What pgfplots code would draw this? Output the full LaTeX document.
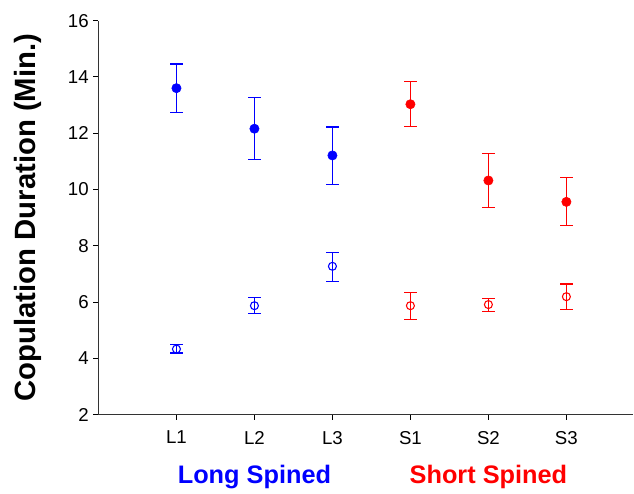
\documentclass[border=0pt]{standalone}
\usepackage{pgfplots}
\pgfplotsset{compat=1.18}
\usepackage{fontspec}
\setmainfont{Liberation Sans}

\definecolor{lblue}{RGB}{0,0,255}
\definecolor{lred}{RGB}{255,0,0}

\pgfplotsset{
  ebar/.style={
    error bars/.cd, y dir=both, y explicit,
    error bar style={line width=0.8pt},
    error mark options={rotate=90, mark size=4.6pt, line width=0.8pt},
  },
}

\begin{document}
\begin{tikzpicture}
\begin{axis}[
    name=ax,
    scale only axis,
    width=401.6pt, height=295.7pt,
    xmin=0, xmax=6.86,
    ymin=2, ymax=16,
    ytick={2,4,...,16},
    xtick={1,...,6},
    xticklabels={L1,L2,L3,S1,S2,S3},
    axis x line=bottom, axis y line=left,
    axis line style={-, line width=0.8pt, black!80},
    tick align=outside,
    major tick length=3.8pt,
    tick style={line width=0.7pt, black},
    ticklabel style={font=\fontsize{14}{16}\selectfont},
    xticklabel style={yshift=-5pt},
    /pgf/number format/assume math mode=true,
    ylabel={\textbf{Copulation Duration (Min.)}},
    every axis y label/.style={at={(rel axis cs:0,0.5)}, xshift=-53pt,
      rotate=90, anchor=center, font=\fontsize{22}{26}\selectfont},
    clip=false,
]

% filled: long spined
\addplot[lblue, only marks, mark=*, mark size=3.5pt, ebar] coordinates {
  (1,13.60) += (0,0.86) -= (0,0.88)
  (2,12.16) += (0,1.11) -= (0,1.10)
  (3,11.21) += (0,1.01) -= (0,1.02)
};
% open: long spined
\addplot[lblue, only marks, mark=o, mark size=3pt, mark options={fill=white, line width=0.8pt}, ebar] coordinates {
  (1,4.33) += (0,0.17) -= (0,0.14)
  (2,5.87) += (0,0.30) -= (0,0.28)
  (3,7.27) += (0,0.49) -= (0,0.54)
};
% filled: short spined
\addplot[lred, only marks, mark=*, mark size=3.5pt, ebar] coordinates {
  (4,13.03) += (0,0.81) -= (0,0.79)
  (5,10.32) += (0,0.95) -= (0,0.97)
  (6,9.56) += (0,0.85) -= (0,0.85)
};
% open: short spined
\addplot[lred, only marks, mark=o, mark size=3pt, mark options={fill=white, line width=0.8pt}, ebar] coordinates {
  (4,5.87) += (0,0.47) -= (0,0.50)
  (5,5.91) += (0,0.22) -= (0,0.23)
  (6,6.19) += (0,0.45) -= (0,0.47)
};

\node[font=\fontsize{19}{23}\selectfont\bfseries, text=lblue, anchor=center]
  at ([yshift=-47pt]axis cs:2,2) {Long Spined};
\node[font=\fontsize{19}{23}\selectfont\bfseries, text=lred, anchor=center]
  at ([yshift=-47pt]axis cs:5,2) {Short Spined};
\end{axis}
\path (ax.south west) ++(-73.9pt,-55.5pt) rectangle ([shift={(0pt,15.5pt)}]ax.north east);
\end{tikzpicture}
\end{document}
